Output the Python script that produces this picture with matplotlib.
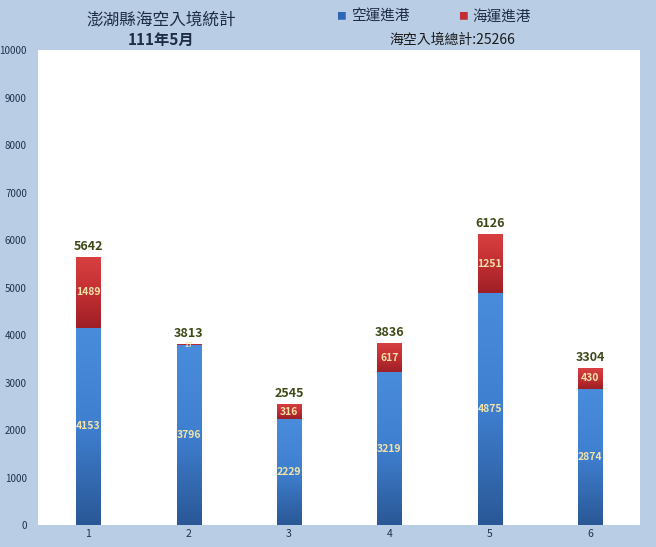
import numpy as np
import matplotlib.pyplot as plt
from matplotlib.colors import LinearSegmentedColormap

plt.rcParams['font.family'] = ['Noto Sans CJK TC', 'DejaVu Sans']

categories = ['1', '2', '3', '4', '5', '6']
air = [4153, 3796, 2229, 3219, 4875, 2874]
sea = [1489, 17, 316, 617, 1251, 430]
totals = [a + s for a, s in zip(air, sea)]
grand_total = 25266
yticks = list(range(0, 10001, 1000))

fig = plt.figure(figsize=(6.56, 5.47), dpi=100)
fig.patch.set_facecolor('#b9cde5')
ax = fig.add_axes([0.058, 0.040, 0.918, 0.8686])
ax.set_facecolor('white')

x = np.arange(len(categories))
w = 0.24
blue_cm = LinearSegmentedColormap.from_list('b', ['#2a5896', '#3f7fd0', '#4a8cdc'])
red_cm = LinearSegmentedColormap.from_list('r', ['#9e1f26', '#c22f33', '#d84040'])

def grad_bar(xc, bottom, height, cmap):
    bar = ax.bar(xc, height, w, bottom=bottom, color='none', edgecolor='none', zorder=3)[0]
    grad = np.linspace(0, 1, 100).reshape(-1, 1)
    im = ax.imshow(grad, cmap=cmap, aspect='auto', origin='lower',
                   extent=[xc - w / 2, xc + w / 2, bottom, bottom + height], zorder=2)
    im.set_clip_path(bar)

for i in range(len(categories)):
    grad_bar(x[i], 0, air[i], blue_cm)
    grad_bar(x[i], air[i], sea[i], red_cm)
    ax.text(x[i], air[i] / 2, str(air[i]), ha='center', va='center',
            fontsize=7.5, color='#f2e3a8', fontweight='bold', zorder=4)
    ax.text(x[i], air[i] + sea[i] / 2, str(sea[i]), ha='center', va='center',
            fontsize=7.5 if sea[i] > 100 else 5, color='#f2e3a8', fontweight='bold', zorder=4)
    ax.text(x[i], totals[i] + 80, str(totals[i]), ha='center', va='bottom',
            fontsize=9, color='#3d4a18', fontweight='bold', zorder=4)

ax.set_xlim(-0.5, len(categories) - 0.5)
ax.set_ylim(0, 10000)
ax.set_yticks(yticks)
ax.set_yticklabels([str(t) for t in yticks], fontsize=7, color='#1f3350')
ax.set_xticks(x)
ax.set_xticklabels(categories, fontsize=7.5, color='#1f3350')
ax.tick_params(axis='x', length=0, pad=3)
ax.tick_params(axis='y', length=0, pad=8)
for s in ax.spines.values():
    s.set_visible(False)

fig.text(0.245, 0.962, '澎湖縣海空入境統計', ha='center', va='center', fontsize=12, color='#1f2d44')
fig.text(0.245, 0.927, '111年5月', ha='center', va='center', fontsize=11, fontweight='bold', color='#1f2d44')
fig.text(0.52, 0.970, '■', ha='center', va='center', fontsize=7, color='#2f67b8')
fig.text(0.537, 0.970, '空運進港', ha='left', va='center', fontsize=10.5, color='#1f2d44')
fig.text(0.705, 0.970, '■', ha='center', va='center', fontsize=7, color='#c22f33')
fig.text(0.72, 0.970, '海運進港', ha='left', va='center', fontsize=10.5, color='#1f2d44')
fig.text(0.69, 0.927, '海空入境總計:%d' % grand_total, ha='center', va='center', fontsize=10, color='#1a1a1a')

fig.savefig('out.png', dpi=100, facecolor=fig.get_facecolor())
